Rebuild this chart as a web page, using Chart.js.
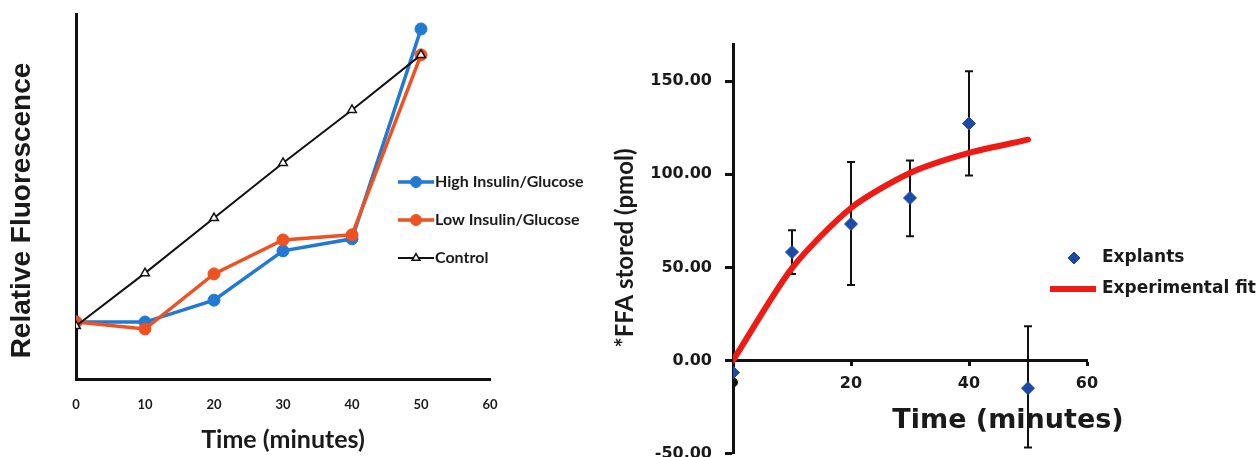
<!DOCTYPE html>
<html>
<head>
<meta charset="utf-8">
<script src="https://cdn.jsdelivr.net/npm/chart.js@4"></script>
<style>
  html, body { margin: 0; padding: 0; background: #fff; }
  #wrap { position: relative; width: 1258px; height: 457px; overflow: hidden; }
  #fluor { position: absolute; left: 0; top: 0; }
  #ffa { position: absolute; left: 600px; top: 0; }
</style>
</head>
<body>
<div id="wrap">
  <canvas id="fluor" width="600" height="457"></canvas>
  <!-- a few px taller than the page so the -50 label sits at the lower edge -->
  <canvas id="ffa" width="658" height="461"></canvas>
</div>
<script>
// --- left panel: relative fluorescence (arbitrary units 0-100) ---
const minutes = [0, 10, 20, 30, 40, 50];
const highInsulin = [15.6, 15.6, 21.6, 35.1, 38.4, 95.9];
const lowInsulin = [15.6, 13.7, 28.8, 38.1, 39.5, 88.8];
const control = [14.5, 29.0, 44.1, 59.2, 73.7, 88.8];

// --- right panel: FFA stored (pmol) ---
const explantTimes = [0, 10, 20, 30, 40, 50];
const explants = [-6.5, 58.2, 73.3, 87.3, 127.3, -14.9];
const errUpper = [null, 70.0, 106.6, 107.4, 155.4, 18.3];
const errLower = [null, 46.4, 40.5, 66.7, 99.3, -46.8];
const fitTimes = [0, 10, 20, 30, 40, 50];
const fitValues = [0, 49.6, 81.9, 100.7, 111.5, 118.6];
const zeroPoint = [{ x: 0, y: -11.8 }];
const ffaTicks = [-50, 0, 50, 100, 150];

const narrow = "Lato, 'Liberation Sans', sans-serif";
const wide = "'DejaVu Sans', Verdana, sans-serif";
const ink = '#1a1a1a';

// legend drawn as rows of line + marker + label
const sideLegend = {
  id: 'sideLegend',
  afterDraw(chart, args, o) {
    const { ctx } = chart;
    ctx.save();
    ctx.textBaseline = 'middle';
    chart.data.datasets.forEach((ds, i) => {
      if (!ds.label) return;
      const y = o.top + i * o.gap;
      const x0 = o.left, x1 = o.left + o.lineLength;
      if (ds.showLine !== false) {
        ctx.strokeStyle = ds.borderColor;
        ctx.lineWidth = ds.borderWidth;
        ctx.beginPath();
        ctx.moveTo(x0, y);
        ctx.lineTo(x1, y);
        ctx.stroke();
      }
      if (ds.pointRadius > 0) {
        ctx.fillStyle = ds.pointBackgroundColor;
        ctx.strokeStyle = ds.pointBorderColor;
        ctx.lineWidth = ds.pointBorderWidth;
        Chart.helpers.drawPoint(ctx, {
          pointStyle: ds.pointStyle, radius: ds.pointRadius - 0.5,
          rotation: 0, borderWidth: ds.pointBorderWidth
        }, o.markerX !== undefined ? o.markerX : (x0 + x1) / 2, y);
      }
      ctx.fillStyle = ink;
      ctx.font = o.font;
      ctx.fillText(ds.label, o.textX, y);
    });
    ctx.restore();
  }
};

// vertical error bars with caps for the explant points
const errorBars = {
  id: 'errorBars',
  beforeDatasetsDraw(chart) {
    const { ctx, scales: { x, y } } = chart;
    ctx.save();
    ctx.strokeStyle = '#111';
    ctx.lineWidth = 2;
    explantTimes.forEach((t, i) => {
      if (errUpper[i] === null) return;
      const px = x.getPixelForValue(t);
      const top = y.getPixelForValue(errUpper[i]);
      const bot = y.getPixelForValue(errLower[i]);
      ctx.beginPath();
      ctx.moveTo(px, top); ctx.lineTo(px, bot);
      ctx.moveTo(px - 4, top); ctx.lineTo(px + 4, top);
      ctx.moveTo(px - 4, bot); ctx.lineTo(px + 4, bot);
      ctx.stroke();
    });
    ctx.restore();
  }
};

// axis titles placed relative to the plot area
const axisTitles = {
  id: 'axisTitles',
  afterDraw(chart, args, o) {
    const { ctx } = chart;
    o.items.forEach(item => {
      const p = item.at(chart);
      ctx.save();
      ctx.font = item.font;
      ctx.fillStyle = ink;
      ctx.textAlign = 'center';
      ctx.textBaseline = 'middle';
      ctx.translate(p.x, p.y);
      if (item.vertical) ctx.rotate(-Math.PI / 2);
      ctx.fillText(item.text, 0, 0);
      ctx.restore();
    });
  }
};

new Chart(document.getElementById('fluor'), {
  type: 'line',
  data: {
    labels: minutes,
    datasets: [
      {
        label: 'High Insulin/Glucose', data: highInsulin, order: 3,
        borderColor: '#2279d4', borderWidth: 3.5,
        pointStyle: 'circle', pointRadius: 6, pointBackgroundColor: '#2279d4',
        pointBorderColor: '#2279d4', pointBorderWidth: 1
      },
      {
        label: 'Low Insulin/Glucose', data: lowInsulin, order: 2,
        borderColor: '#ef5121', borderWidth: 3.5,
        pointStyle: 'circle', pointRadius: 6, pointBackgroundColor: '#ef5121',
        pointBorderColor: '#ef5121', pointBorderWidth: 1
      },
      {
        label: 'Control', data: control, order: 1,
        borderColor: '#111', borderWidth: 2,
        pointStyle: 'triangle', pointRadius: 5, pointBackgroundColor: '#fff',
        pointBorderColor: '#111', pointBorderWidth: 1.5
      }
    ]
  },
  options: {
    responsive: false,
    animation: false,
    layout: { padding: { left: 0, top: 14, right: 110, bottom: 0 } },
    plugins: {
      legend: { display: false },
      tooltip: { enabled: false },
      sideLegend: { left: 398, top: 182, gap: 38, lineLength: 36, textX: 435, font: `bold 16px ${narrow}` },
      axisTitles: {
        items: [{
          text: 'Relative Fluorescence', vertical: true,
          font: "bold 28px 'Liberation Sans', Arial, sans-serif",
          at: c => ({ x: c.chartArea.left - 54, y: (c.chartArea.top + c.chartArea.bottom) / 2 + 14 })
        }]
      }
    },
    scales: {
      x: {
        type: 'linear', min: 0, max: 60,
        afterFit: s => { s.height = 78; },
        grid: { display: false },
        border: { display: true, width: 3, color: '#111' },
        ticks: { stepSize: 10, padding: 10, color: ink, font: { family: narrow, weight: 'bold', size: 13 } },
        title: { display: true, text: 'Time (minutes)', color: ink, padding: { top: 0, bottom: 2 },
                 font: { family: narrow, weight: 'bold', size: 25 } }
      },
      y: {
        min: 0, max: 100,
        afterFit: s => { s.width = 76; },
        grid: { display: false },
        border: { display: true, width: 3, color: '#111' },
        ticks: { display: false }
      }
    }
  },
  plugins: [sideLegend, axisTitles]
});

new Chart(document.getElementById('ffa'), {
  type: 'line',
  data: {
    datasets: [
      {
        label: 'Explants', showLine: false,
        data: explantTimes.map((t, i) => ({ x: t, y: explants[i] })),
        pointStyle: 'rectRot', pointRadius: 6.5, pointBackgroundColor: '#1d4aa8',
        pointBorderColor: '#1d4aa8', pointBorderWidth: 1
      },
      {
        label: 'Experimental fit',
        data: fitTimes.map((t, i) => ({ x: t, y: fitValues[i] })),
        borderColor: '#ee1a14', borderWidth: 6, tension: 0.25, pointRadius: 0,
        borderCapStyle: 'round'
      },
      {
        data: zeroPoint, showLine: false,
        pointStyle: 'circle', pointRadius: 4.5, pointBackgroundColor: '#111', pointBorderColor: '#111'
      }
    ]
  },
  options: {
    responsive: false,
    animation: false,
    layout: { padding: { left: 0, top: 44, right: 171, bottom: 5 } },
    plugins: {
      legend: { display: false },
      tooltip: { enabled: false },
      sideLegend: { left: 450, top: 258, gap: 31, lineLength: 46, markerX: 474, textX: 502, font: `bold 17px ${wide}` },
      axisTitles: {
        items: [
          {
            text: 'Time (minutes)', font: `bold 27px ${wide}`,
            at: c => ({ x: c.chartArea.right - 79, y: c.scales.y.getPixelForValue(0) + 61 })
          },
          {
            text: '*FFA stored (pmol)', vertical: true, font: `bold 24px ${narrow}`,
            at: c => ({ x: c.chartArea.left - 108, y: 248 })
          }
        ]
      }
    },
    scales: {
      x: {
        type: 'linear', min: 0, max: 60, position: { y: 0 },
        afterFit: s => { s.height = 0; },
        grid: { display: true, drawOnChartArea: false, drawTicks: true, tickLength: 4, tickWidth: 3, tickColor: '#111' },
        border: { display: true, width: 3, color: '#111' },
        ticks: { stepSize: 20, padding: 10, color: ink, font: { family: wide, weight: 'bold', size: 16 },
                 callback: v => (v === 0 ? '' : v) }
      },
      y: {
        min: -50, max: 170,
        afterFit: s => { s.width = 133; s.paddingTop = 0; s.paddingBottom = 0; },
        afterBuildTicks: s => { s.ticks = ffaTicks.map(v => ({ value: v })); },
        grid: { display: true, drawOnChartArea: false, drawTicks: true, tickLength: 8, tickWidth: 3, tickColor: '#111' },
        border: { display: true, width: 3, color: '#111' },
        ticks: { padding: 13, color: ink, font: { family: wide, weight: 'bold', size: 16 },
                 callback: v => v.toFixed(2) }
      }
    }
  },
  plugins: [sideLegend, errorBars, axisTitles]
});
</script>
</body>
</html>
